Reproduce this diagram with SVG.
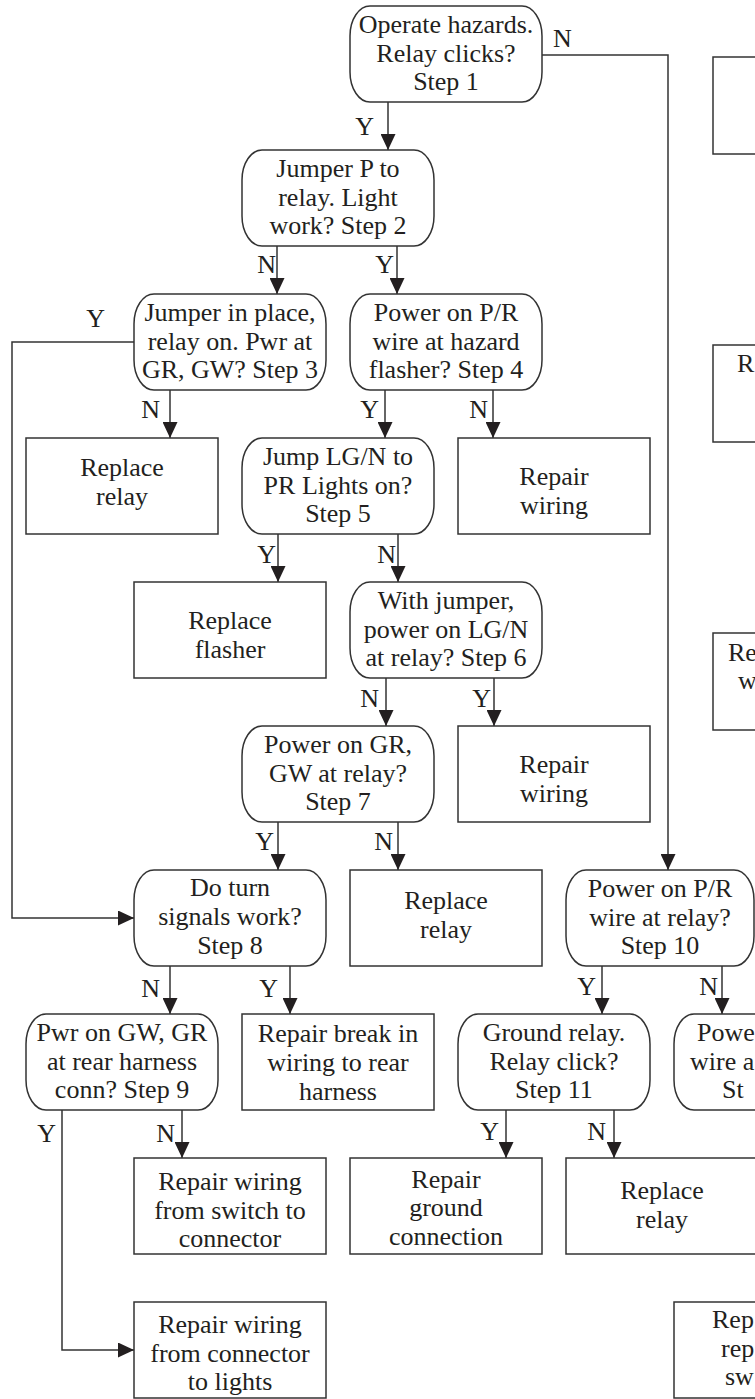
<svg xmlns="http://www.w3.org/2000/svg" width="755" height="1399" viewBox="0 0 755 1399">
  <defs>
    <style>
      .dec { fill: #ffffff; stroke: #333333; stroke-width: 1.5; }
      .box { fill: #ffffff; stroke: #333333; stroke-width: 1.5; }
      .wire { fill: none; stroke: #333333; stroke-width: 1.5; marker-end: url(#head); }
      text { font-family: "Liberation Serif", "Times New Roman", serif; font-size: 26px; fill: #231f20; }
      .c { text-anchor: middle; }
      .lbl { text-anchor: end; }
    </style>
    <marker id="head" markerUnits="userSpaceOnUse" markerWidth="16" markerHeight="15" refX="16" refY="7.5" orient="auto">
      <path d="M0,0 L16,7.5 L0,15 z" fill="#231f20"/>
    </marker>
  </defs>
  <rect width="755" height="1399" fill="#ffffff"/>

  <!-- connectors -->
  <g id="connectors">
    <path class="wire" d="M388,102 V150"/>
    <path class="wire" d="M542,55 H668 V870"/>
    <path class="wire" d="M277,246 V294"/>
    <path class="wire" d="M397,246 V294"/>
    <path class="wire" d="M134,342 H12 V918 H134"/>
    <path class="wire" d="M170,390 V438"/>
    <path class="wire" d="M385,390 V438"/>
    <path class="wire" d="M493,390 V438"/>
    <path class="wire" d="M278,534 V582"/>
    <path class="wire" d="M398,534 V582"/>
    <path class="wire" d="M386,678 V726"/>
    <path class="wire" d="M494,678 V726"/>
    <path class="wire" d="M278,822 V870"/>
    <path class="wire" d="M398,822 V870"/>
    <path class="wire" d="M170,966 V1014"/>
    <path class="wire" d="M290,966 V1014"/>
    <path class="wire" d="M602,966 V1014"/>
    <path class="wire" d="M722,966 V1014"/>
    <path class="wire" d="M62,1110 V1350 H134"/>
    <path class="wire" d="M182,1110 V1158"/>
    <path class="wire" d="M506,1110 V1158"/>
    <path class="wire" d="M614,1110 V1158"/>
    <!-- branch labels -->
    <text class="lbl" x="374" y="135">Y</text>
    <text x="553" y="47">N</text>
    <text class="lbl" x="276" y="273">N</text>
    <text class="lbl" x="394" y="273">Y</text>
    <text class="lbl" x="105" y="327">Y</text>
    <text class="lbl" x="160" y="418">N</text>
    <text class="lbl" x="379" y="418">Y</text>
    <text class="lbl" x="488" y="418">N</text>
    <text class="lbl" x="276" y="563">Y</text>
    <text class="lbl" x="396" y="563">N</text>
    <text class="lbl" x="379" y="707">N</text>
    <text class="lbl" x="491" y="707">Y</text>
    <text class="lbl" x="274" y="850">Y</text>
    <text class="lbl" x="393" y="850">N</text>
    <text class="lbl" x="160" y="997">N</text>
    <text class="lbl" x="278" y="997">Y</text>
    <text class="lbl" x="596" y="995">Y</text>
    <text class="lbl" x="718" y="995">N</text>
    <text class="lbl" x="56" y="1142">Y</text>
    <text class="lbl" x="175" y="1142">N</text>
    <text class="lbl" x="499" y="1140">Y</text>
    <text class="lbl" x="606" y="1140">N</text>
  </g>

  <!-- decision nodes -->
  <g id="step1">
    <rect class="dec" x="350" y="6" width="192" height="96" rx="20" ry="30"/>
    <text class="c" x="446" y="33">Operate hazards.</text>
    <text class="c" x="446" y="62">Relay clicks?</text>
    <text class="c" x="446" y="90">Step 1</text>
  </g>
  <g id="step2">
    <rect class="dec" x="242" y="150" width="192" height="96" rx="20" ry="30"/>
    <text class="c" x="338" y="177">Jumper P to</text>
    <text class="c" x="338" y="206">relay. Light</text>
    <text class="c" x="338" y="234">work? Step 2</text>
  </g>
  <g id="step3">
    <rect class="dec" x="134" y="294" width="192" height="96" rx="20" ry="30"/>
    <text class="c" x="230" y="321">Jumper in place,</text>
    <text class="c" x="230" y="350">relay on. Pwr at</text>
    <text class="c" x="230" y="378">GR, GW? Step 3</text>
  </g>
  <g id="step4">
    <rect class="dec" x="350" y="294" width="192" height="96" rx="20" ry="30"/>
    <text class="c" x="446" y="321">Power on P/R</text>
    <text class="c" x="446" y="350">wire at hazard</text>
    <text class="c" x="446" y="378">flasher? Step 4</text>
  </g>
  <g id="step5">
    <rect class="dec" x="242" y="438" width="192" height="96" rx="20" ry="30"/>
    <text class="c" x="338" y="465">Jump LG/N to</text>
    <text class="c" x="338" y="494">PR Lights on?</text>
    <text class="c" x="338" y="522">Step 5</text>
  </g>
  <g id="step6">
    <rect class="dec" x="350" y="582" width="192" height="96" rx="20" ry="30"/>
    <text class="c" x="446" y="609">With jumper,</text>
    <text class="c" x="446" y="638">power on LG/N</text>
    <text class="c" x="446" y="666">at relay? Step 6</text>
  </g>
  <g id="step7">
    <rect class="dec" x="242" y="726" width="192" height="96" rx="20" ry="30"/>
    <text class="c" x="338" y="753">Power on GR,</text>
    <text class="c" x="338" y="782">GW at relay?</text>
    <text class="c" x="338" y="810">Step 7</text>
  </g>
  <g id="step8">
    <rect class="dec" x="134" y="870" width="192" height="96" rx="20" ry="30"/>
    <text class="c" x="230" y="896">Do turn</text>
    <text class="c" x="230" y="925">signals work?</text>
    <text class="c" x="230" y="954">Step 8</text>
  </g>
  <g id="step9">
    <rect class="dec" x="26" y="1014" width="192" height="96" rx="20" ry="30"/>
    <text class="c" x="122" y="1041">Pwr on GW, GR</text>
    <text class="c" x="122" y="1070">at rear harness</text>
    <text class="c" x="122" y="1098">conn? Step 9</text>
  </g>
  <g id="step10">
    <rect class="dec" x="566" y="870" width="188" height="96" rx="20" ry="30"/>
    <text class="c" x="660" y="897">Power on P/R</text>
    <text class="c" x="660" y="926">wire at relay?</text>
    <text class="c" x="660" y="954">Step 10</text>
  </g>
  <g id="step11">
    <rect class="dec" x="458" y="1014" width="192" height="96" rx="20" ry="30"/>
    <text class="c" x="554" y="1041">Ground relay.</text>
    <text class="c" x="554" y="1070">Relay click?</text>
    <text class="c" x="554" y="1098">Step 11</text>
  </g>
  <g id="step12">
    <rect class="dec" x="674" y="1014" width="192" height="96" rx="20" ry="30"/>
    <text x="697" y="1041">Powe</text>
    <text x="690" y="1070">wire a</text>
    <text x="722" y="1098">St</text>
  </g>

  <!-- action boxes -->
  <g id="replace-relay-a">
    <rect class="box" x="26" y="438" width="192" height="96"/>
    <text class="c" x="122" y="476">Replace</text>
    <text class="c" x="122" y="505">relay</text>
  </g>
  <g id="repair-wiring-a">
    <rect class="box" x="458" y="438" width="192" height="96"/>
    <text class="c" x="554" y="485">Repair</text>
    <text class="c" x="554" y="514">wiring</text>
  </g>
  <g id="replace-flasher">
    <rect class="box" x="134" y="582" width="192" height="96"/>
    <text class="c" x="230" y="629">Replace</text>
    <text class="c" x="230" y="658">flasher</text>
  </g>
  <g id="repair-wiring-b">
    <rect class="box" x="458" y="726" width="192" height="96"/>
    <text class="c" x="554" y="773">Repair</text>
    <text class="c" x="554" y="802">wiring</text>
  </g>
  <g id="replace-relay-b">
    <rect class="box" x="350" y="870" width="192" height="96"/>
    <text class="c" x="446" y="909">Replace</text>
    <text class="c" x="446" y="938">relay</text>
  </g>
  <g id="repair-break">
    <rect class="box" x="242" y="1014" width="192" height="96"/>
    <text class="c" x="338" y="1042">Repair break in</text>
    <text class="c" x="338" y="1071">wiring to rear</text>
    <text class="c" x="338" y="1100">harness</text>
  </g>
  <g id="repair-switch-connector">
    <rect class="box" x="134" y="1158" width="192" height="96"/>
    <text class="c" x="230" y="1190">Repair wiring</text>
    <text class="c" x="230" y="1219">from switch to</text>
    <text class="c" x="230" y="1247">connector</text>
  </g>
  <g id="repair-ground">
    <rect class="box" x="350" y="1158" width="192" height="96"/>
    <text class="c" x="446" y="1188">Repair</text>
    <text class="c" x="446" y="1216">ground</text>
    <text class="c" x="446" y="1245">connection</text>
  </g>
  <g id="replace-relay-c">
    <rect class="box" x="566" y="1158" width="192" height="96"/>
    <text class="c" x="662" y="1199">Replace</text>
    <text class="c" x="662" y="1228">relay</text>
  </g>
  <g id="repair-connector-lights">
    <rect class="box" x="134" y="1302" width="192" height="96"/>
    <text class="c" x="230" y="1333">Repair wiring</text>
    <text class="c" x="230" y="1362">from connector</text>
    <text class="c" x="230" y="1390">to lights</text>
  </g>
  <g id="repair-replace-switch">
    <rect class="box" x="674" y="1302" width="192" height="96"/>
    <text x="712" y="1328">Rep</text>
    <text x="721" y="1357">rep</text>
    <text x="725" y="1385">sw</text>
  </g>

  <!-- far-right column boxes -->
  <g id="right-box-a">
    <rect class="box" x="713" y="57" width="192" height="97"/>
  </g>
  <g id="right-box-b">
    <rect class="box" x="713" y="345" width="192" height="97"/>
    <text x="737" y="372">R</text>
  </g>
  <g id="right-box-c">
    <rect class="box" x="713" y="633" width="192" height="97"/>
    <text x="728" y="661">Re</text>
    <text x="738" y="689">w</text>
  </g>
</svg>
